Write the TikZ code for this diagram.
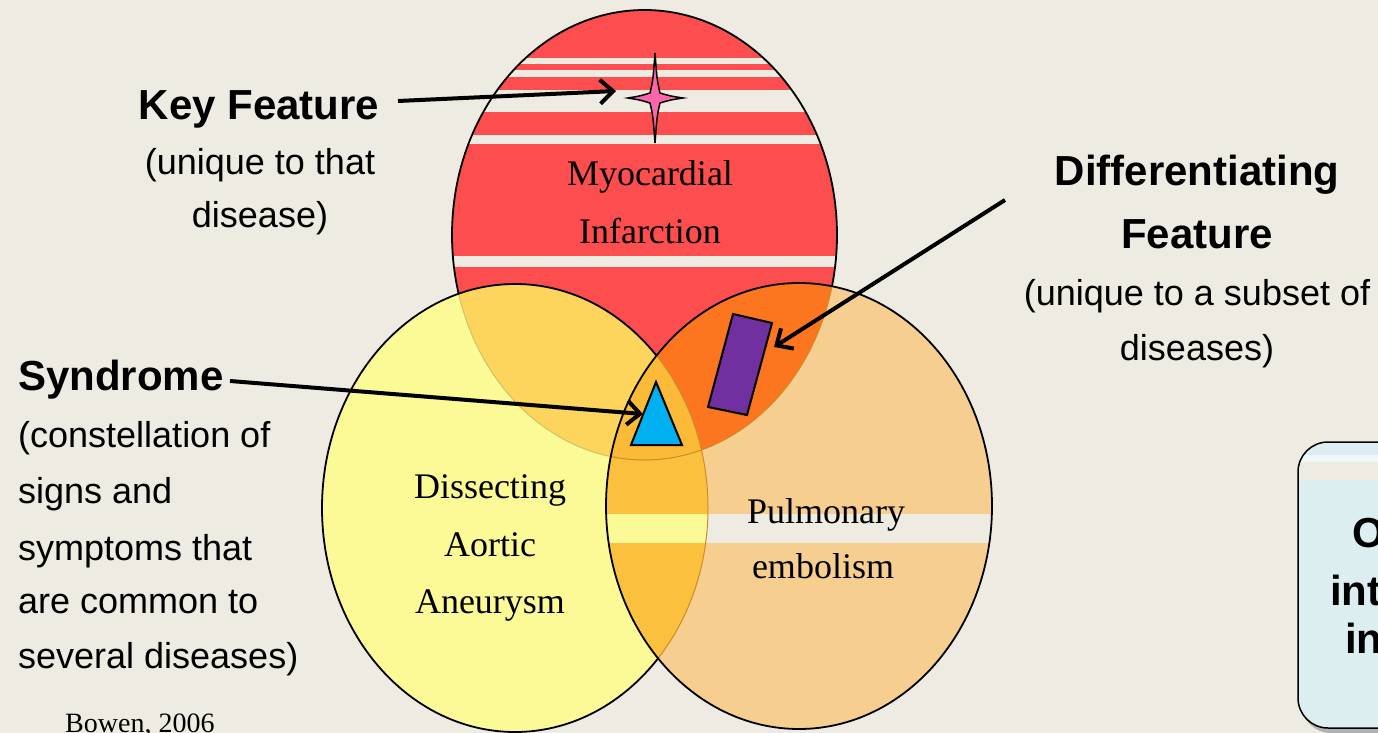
\documentclass[tikz,border=0pt]{standalone}
\usepackage{fontspec}
\setmainfont{Liberation Sans}
\newfontfamily\serifx{Liberation Serif}
\usetikzlibrary{arrows.meta}
\definecolor{bg}{RGB}{238,235,227}
\definecolor{cred}{RGB}{252,78,78}
\definecolor{cyel}{RGB}{252,250,150}
\definecolor{cpea}{RGB}{246,206,144}
\definecolor{cry}{RGB}{253,213,92}
\definecolor{crp}{RGB}{252,118,32}
\definecolor{cyp}{RGB}{251,192,62}
\definecolor{cryp}{RGB}{251,186,56}
\definecolor{cstar}{RGB}{255,102,170}
\definecolor{ctri}{RGB}{0,176,240}
\definecolor{cpur}{RGB}{112,48,160}
\definecolor{cbox}{RGB}{221,238,241}
\definecolor{fainty}{RGB}{205,195,100}
\definecolor{faintp}{RGB}{205,140,40}
\begin{document}
\begin{tikzpicture}[x=1pt,y=-1pt,
  lbl/.style={inner sep=0pt, anchor=base, font=\fontsize{42}{48}\selectfont\bfseries},
  sub/.style={inner sep=0pt, anchor=base, font=\fontsize{36}{42}\selectfont},
  subl/.style={inner sep=0pt, anchor=base west, font=\fontsize{36}{42}\selectfont},
  dis/.style={inner sep=0pt, anchor=base, font=\serifx\fontsize{36}{42}\selectfont},
  pointer/.style={line width=4pt, -{Straight Barb[length=13pt,width=24pt,line width=4pt]}},
  rim/.style={line width=1.8pt, draw=black},
  stripe/.style={fill=bg}]

\def\RE{(644.5,235) ellipse [x radius=192.5, y radius=225]}
\def\YE{(515,508) ellipse [x radius=193, y radius=224]}
\def\PE{(799,506) ellipse [x radius=193, y radius=223]}

\useasboundingbox (0,0) rectangle (1378,733);
\fill[bg] (0,0) rectangle (1378,733);

% Myocardial infarction ellipse
\fill[cred] \RE;
\begin{scope}
  \clip \RE;
  \fill[stripe] (400,58) rectangle (900,64);
  \fill[stripe] (400,70) rectangle (900,77);
  \fill[stripe] (400,90) rectangle (900,112);
  \fill[stripe] (400,135) rectangle (900,144);
  \fill[stripe] (400,256) rectangle (900,267);
\end{scope}
\draw[rim] \RE;

% Dissecting aortic aneurysm ellipse
\fill[cyel] \YE;
\begin{scope}
  \clip \RE;
  \fill[cry] \YE;
\end{scope}
\begin{scope}
  \clip \YE;
  \draw[line width=1pt, fainty] \RE;
\end{scope}
\draw[rim] \YE;

% Pulmonary embolism ellipse
\fill[cpea] \PE;
\begin{scope}
  \clip \PE;
  \fill[crp] \RE;
  \fill[cyp] \YE;
  \begin{scope}
    \clip \RE;
    \fill[cryp] \YE;
  \end{scope}
  \fill[stripe] (600,514) rectangle (1000,543);
  \begin{scope}
    \clip \YE;
    \fill[cyel] (600,514) rectangle (1000,543);
  \end{scope}
  \draw[line width=1pt, faintp] \YE;
  \draw[line width=1pt, faintp] \RE;
\end{scope}
\draw[rim] \PE;

% symbols
\filldraw[fill=cstar, draw=black, line width=1.5pt]
  (655,53) .. controls (657,80) .. (660,93) .. controls (670,96) .. (683,98)
  .. controls (670,100) .. (660,103) .. controls (657,116) .. (655,143)
  .. controls (653,116) .. (650,103) .. controls (640,100) .. (628,98)
  .. controls (640,96) .. (650,93) .. controls (653,80) .. (655,53) -- cycle;
\coordinate (star) at (655,98);
\filldraw[fill=ctri, draw=black, line width=2pt, line join=miter]
  (656,382) -- (682,445) -- (631,445) -- cycle;
\coordinate (tri) at (656,414);
\filldraw[fill=cpur, draw=black, line width=2pt]
  (733,314) -- (772,323) -- (747,415) -- (708,407) -- cycle;
\coordinate (rect) at (740,365);

% ellipse labels
\node[dis] (mi1) at (650,185) {Myocardial};
\node[dis] (mi2) at (650,243) {Infarction};
\node[dis] (da1) at (490,498) {Dissecting};
\node[dis] (da2) at (490,556) {Aortic};
\node[dis] (da3) at (490,613) {Aneurysm};
\node[dis] (pe1) at (826,523) {Pulmonary};
\node[dis] (pe2) at (823,578) {embolism};

% Key feature
\node[lbl] (keyF) at (259,120) {Key Feature};
\node[sub] (key2) at (260,174) {(unique to that};
\node[sub] (key3) at (260,227) {disease)};
\coordinate (kS) at (398,101);
\coordinate (kT) at (616,91);
\draw[pointer] (kS) -- (kT);

% Differentiating feature
\node[lbl] (dif1) at (1197,185) {Differentiating};
\node[lbl] (dif2) at (1197,248) {Feature};
\node[sub] (dif3) at (1197,305) {(unique to a subset of};
\node[sub] (dif4) at (1197,360) {diseases)};
\coordinate (dS) at (1005,200);
\coordinate (dT) at (774,347);
\draw[pointer] (dS) -- (dT);

% Syndrome
\node[lbl, anchor=base west] (syn) at (18,390) {Syndrome};
\node[subl] (syn1) at (18,447) {(constellation of};
\node[subl] (syn2) at (18,503) {signs and};
\node[subl] (syn3) at (18,560) {symptoms that};
\node[subl] (syn4) at (18,613) {are common to};
\node[subl] (syn5) at (18,668) {several diseases)};
\coordinate (sS) at (230,381);
\coordinate (sT) at (643,414);
\draw[pointer] (sS) -- (sT);

% citation
\node[inner sep=0pt, anchor=base west, font=\serifx\fontsize{28}{32}\selectfont] (cite) at (65,732) {Bowen, 2006};

% partial box at right
\fill[black!30, rounded corners=30pt] (1301,448) rectangle (1460,733);
\begin{scope}
  \clip[rounded corners=30pt] (1298,442) rectangle (1460,728);
  \fill[cbox] (1290,440) rectangle (1460,730);
  \fill[white!60!cbox] (1290,455) rectangle (1460,462);
  \fill[bg] (1290,462) rectangle (1460,480);
\end{scope}
\draw[line width=1.5pt, rounded corners=30pt] (1298,442) rectangle (1460,728);
\node[lbl, anchor=base west] (bx1) at (1352,547) {O};
\node[lbl, anchor=base west] (bx2) at (1330,605) {int};
\node[lbl, anchor=base west] (bx3) at (1345,653) {in};
\end{tikzpicture}
\end{document}
